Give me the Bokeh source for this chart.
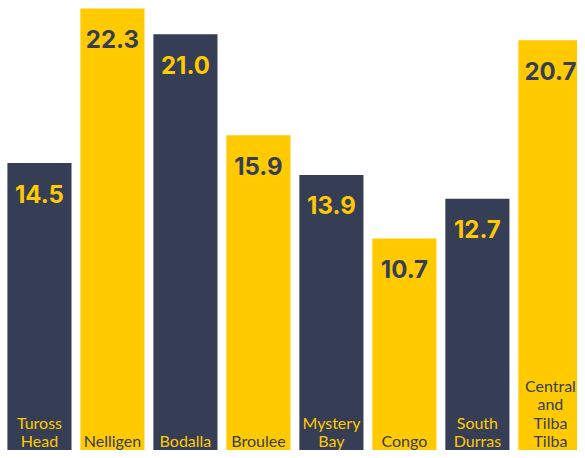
from bokeh.plotting import figure
from bokeh.models import ColumnDataSource, Range1d
from bokeh.core.properties import value
from bokeh.embed import file_html
from bokeh.resources import INLINE

categories = ["Tuross\nHead", "Nelligen", "Bodalla", "Broulee", "Mystery\nBay",
              "Congo", "South\nDurras", "Central\nand\nTilba\nTilba"]
values = [14.5, 22.3, 21.0, 15.9, 13.9, 10.7, 12.7, 20.7]

NAVY = "#353e55"
YELLOW = "#ffca00"

xs = list(range(len(values)))
bar_colors = [NAVY if i % 2 == 0 else YELLOW for i in xs]
text_colors = [YELLOW if i % 2 == 0 else NAVY for i in xs]

bars = ColumnDataSource(dict(
    x=xs, top=values, color=bar_colors, tcolor=text_colors,
    label=[f"{v:.1f}" for v in values],
))

# category label lines
lx, ltxt, loff, lcol = [], [], [], []
for i, name in enumerate(categories):
    lines = name.split("\n")
    n = len(lines)
    for k, ln in enumerate(lines):
        lx.append(i)
        ltxt.append(ln)
        loff.append(-10 - 18.3 * (n - 1 - k))
        lcol.append(text_colors[i])
cats = ColumnDataSource(dict(x=lx, y=[0] * len(lx), text=ltxt, yo=loff, color=lcol))

p = figure(width=577, height=450, output_backend="svg", toolbar_location=None,
           x_range=Range1d(-0.5338, 7.3716), y_range=Range1d(0, 22.7),
           min_border=0, min_border_left=0, min_border_right=0,
           min_border_top=0, min_border_bottom=0)
p.axis.visible = False
p.grid.visible = False
p.outline_line_color = None
p.background_fill_color = "white"
p.border_fill_color = "white"

p.vbar(x="x", top="top", bottom=0, width=65 / 74, color="color", source=bars,
       line_color=None)

p.text(x="x", y="top", text="label", source=bars, text_color="tcolor",
       text_align="center", text_baseline="middle", y_offset=30.5,
       text_font=value("Inter"), text_font_style="bold", text_font_size="24px")

p.text(x="x", y="y", text="text", y_offset="yo", source=cats, text_color="color",
       text_align="center", text_baseline="alphabetic",
       text_font=value("Lato"), text_font_size="16px")

open("out.html", "w").write(file_html(p, INLINE))
